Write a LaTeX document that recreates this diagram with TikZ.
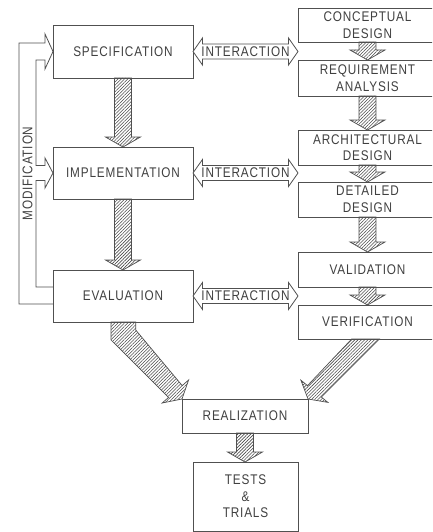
\documentclass[tikz,border=0pt]{standalone}
\usepackage{fontspec}
\setmainfont[FakeStretch=0.84,LetterSpace=6]{Liberation Sans}
\usetikzlibrary{calc,patterns.meta}
\definecolor{ln}{HTML}{505050}
\definecolor{tx}{HTML}{404040}
\definecolor{hl}{HTML}{4A4A4A}
\tikzset{
  box/.style={draw=ln, line width=0.9pt, fill=white, text=tx, align=center,
    font=\fontsize{14}{16.5}\selectfont, inner sep=0pt, outer sep=0pt},
  hatchbody/.style={draw=ln, line width=0.7pt, line join=miter,
    pattern={Lines[angle=45,distance=2.3pt,line width=0.55pt]}, pattern color=hl},
  pipe/.style={draw=ln, line width=0.8pt},
  dblarrow/.style={draw=ln, line width=0.8pt, fill=white},
  lbl/.style={text=tx, font=\fontsize{14}{16.5}\selectfont, inner sep=0pt}
}
\newcommand\hatchArrow[2]{%
  \coordinate (ha-a) at (#1);
  \coordinate (ha-b) at (#2);
  \coordinate (ha-h) at ($(ha-b)!10pt!(ha-a)$);
  \draw[hatchbody] ($(ha-a)!8.5pt!90:(ha-b)$) -- ($(ha-h)!8.5pt!-90:(ha-a)$)
    -- ($(ha-h)!17.5pt!-90:(ha-a)$) -- (ha-b) -- ($(ha-h)!17.5pt!90:(ha-a)$)
    -- ($(ha-h)!8.5pt!90:(ha-a)$) -- ($(ha-a)!8.5pt!-90:(ha-b)$) -- cycle;}
\newcommand\interArrow[2]{%
  \coordinate (ia-a) at (#1);
  \coordinate (ia-b) at (#2);
  \draw[dblarrow] (ia-a) -- ($(ia-a)+(9.5,-13.5)$) -- ($(ia-a)+(9.5,-7.5)$)
    -- ($(ia-b)+(-9.5,-7.5)$) -- ($(ia-b)+(-9.5,-13.5)$) -- (ia-b)
    -- ($(ia-b)+(-9.5,13.5)$) -- ($(ia-b)+(-9.5,7.5)$) -- ($(ia-a)+(9.5,7.5)$)
    -- ($(ia-a)+(9.5,13.5)$) -- cycle;
  \node[lbl] at ($(ia-a)!0.5!(ia-b)$) {INTERACTION};}
\begin{document}
\begin{tikzpicture}[x=1pt,y=-1pt]
\useasboundingbox (0,0) rectangle (432,532);
\clip (0,0) rectangle (432,532);
% left column
\node[box, minimum width=140pt, minimum height=53pt] (spec) at (123,51.5) {SPECIFICATION};
\node[box, minimum width=140pt, minimum height=52pt] (impl) at (123,173) {IMPLEMENTATION};
\node[box, minimum width=140pt, minimum height=52pt] (eval) at (123,296) {EVALUATION};
% right column
\node[box, minimum width=139pt, minimum height=34pt] (conc) at (367.5,25) {CONCEPTUAL\\DESIGN};
\node[box, minimum width=139pt, minimum height=36pt] (req) at (367.5,78) {REQUIREMENT\\ANALYSIS};
\node[box, minimum width=139pt, minimum height=35pt] (arch) at (367.5,147.5) {ARCHITECTURAL\\DESIGN};
\node[box, minimum width=139pt, minimum height=35pt] (det) at (367.5,199.5) {DETAILED\\DESIGN};
\node[box, minimum width=139pt, minimum height=35pt] (val) at (367.5,269.5) {VALIDATION};
\node[box, minimum width=139pt, minimum height=34pt] (ver) at (367.5,322) {VERIFICATION};
% bottom
\node[box, minimum width=126pt, minimum height=34pt] (real) at (245,416) {REALIZATION};
\node[box, minimum width=105pt, minimum height=69pt] (tests) at (245.5,496.5) {TESTS\\\&\\TRIALS};
% vertical hatched arrows
\hatchArrow{spec.south}{impl.north}
\hatchArrow{impl.south}{eval.north}
\hatchArrow{conc.south}{req.north}
\hatchArrow{req.south}{arch.north}
\hatchArrow{arch.south}{det.north}
\hatchArrow{det.south}{val.north}
\hatchArrow{val.south}{ver.north}
\hatchArrow{real.south}{real.south |- tests.north}
% diagonal hatched arrows
\draw[hatchbody] ($(eval.south)+(-12,0)$) -- ($(eval.south)+(-12,18)$)
  -- ($(real.north west)+(-13.4,-1.6)$) -- ($(real.north west)+(-19.8,4)$)
  -- (real.north west) -- ($(real.north west)+(6.6,-19)$)
  -- ($(real.north west)+(0.2,-13.4)$) -- ($(eval.south)+(12.7,8)$)
  -- ($(eval.south)+(12.7,0)$) -- cycle;
\draw[hatchbody] ($(ver.south)+(-15.8,0)$) -- ($(real.north east)+(-0.5,-13.4)$)
  -- ($(real.north east)+(-7.1,-18.8)$) -- (real.north east)
  -- ($(real.north east)+(19.9,3.4)$) -- ($(real.north east)+(13.3,-2)$)
  -- ($(ver.south)+(11.8,0)$) -- cycle;
% interaction arrows
\interArrow{spec.east}{spec.east -| conc.west}
\interArrow{impl.east}{impl.east -| conc.west}
\interArrow{eval.east}{eval.east -| conc.west}
% modification feedback pipe
\draw[pipe] ($(eval.west)+(0,8)$) -- ($(eval.west)+(-34,8)$)
  -- ($(spec.west)+(-34,-8.5)$) -- ($(spec.west)+(-8,-8.5)$)
  -- ($(spec.west)+(-8,-17.5)$) -- (spec.west) -- ($(spec.west)+(-8,17.5)$)
  -- ($(spec.west)+(-8,8.5)$) -- ($(spec.west)+(-17,8.5)$)
  -- ($(impl.west)+(-17,-7.5)$) -- ($(impl.west)+(-8,-7.5)$)
  -- ($(impl.west)+(-8,-15)$) -- (impl.west) -- ($(impl.west)+(-8,15)$)
  -- ($(impl.west)+(-8,7.5)$) -- ($(impl.west)+(-17,7.5)$)
  -- ($(eval.west)+(-17,-9)$) -- ($(eval.west)+(0,-9)$);
\node[lbl, rotate=90] (mod) at ($(impl.west)+(-25.5,0.5)$) {MODIFICATION};
\end{tikzpicture}
\end{document}
